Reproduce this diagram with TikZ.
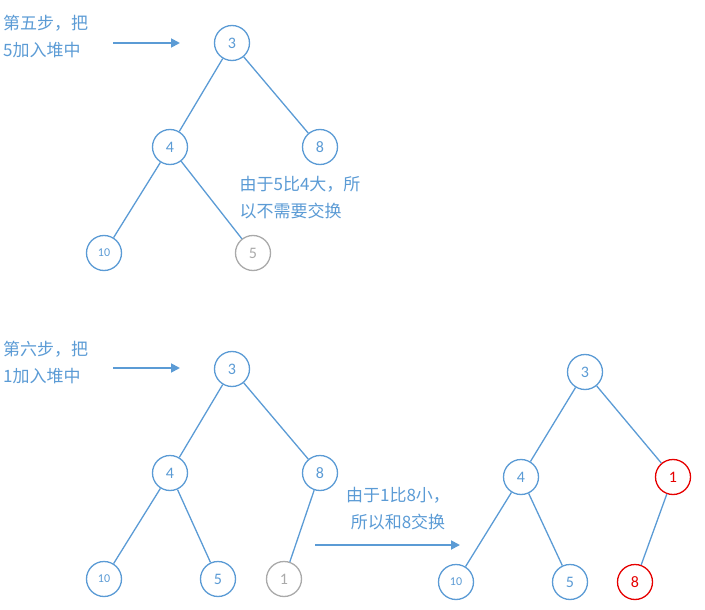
\documentclass[tikz,border=0pt]{standalone}
\usepackage{fontspec}
\setmainfont{Carlito}
\newfontfamily\cjk{Noto Sans CJK SC}
\usetikzlibrary{arrows.meta}
\definecolor{bl}{RGB}{91,155,213}
\definecolor{gr}{RGB}{170,170,170}
\definecolor{rd}{RGB}{230,0,0}
\begin{document}
\begin{tikzpicture}[x=1pt,y=-1pt,
  nd/.style={circle,draw=bl,line width=1.3pt,minimum size=35pt,inner sep=0pt,text=bl,font=\fontsize{16}{16}\selectfont,fill=white},
  sm/.style={font=\fontsize{12}{12}\selectfont},
  gy/.style={draw=gr,text=gr},
  rdn/.style={draw=rd,text=rd},
  ed/.style={draw=bl,line width=1.3pt},
  ar/.style={draw=bl,line width=1.8pt,-{Triangle[length=9pt,width=9pt]}},
  lb/.style={text=bl,font=\cjk\fontsize{17}{27}\selectfont,align=center,inner sep=0pt}]
\useasboundingbox (0,0) rectangle (705,610);
% step 5
\node[nd] (a3) at (232,43) {3};
\node[nd] (a4) at (170,147) {4};
\node[nd] (a8) at (320,147) {8};
\node[nd,sm] (a10) at (104,253) {10};
\node[nd,gy] (a5) at (253,253) {5};
\draw[ed] (a3)--(a4); \draw[ed] (a3)--(a8); \draw[ed] (a4)--(a10); \draw[ed] (a4)--(a5);
\node[lb,align=left,anchor=west] (t1) at (3,37) {第五步，把\\5加入堆中};
\coordinate (s1) at (113,43); \coordinate (e1) at (180,43);
\draw[ar] (s1)--(e1);
\node[lb,align=left,fill=white,inner sep=1pt] (t2) at (300,198) {由于5比4大，所\\以不需要交换};
% step 6
\node[nd] (b3) at (232,369) {3};
\node[nd] (b4) at (170,473) {4};
\node[nd] (b8) at (320,473) {8};
\node[nd,sm] (b10) at (104,579) {10};
\node[nd] (b5) at (218,579) {5};
\node[nd,gy] (b1) at (284,579) {1};
\draw[ed] (b3)--(b4); \draw[ed] (b3)--(b8); \draw[ed] (b4)--(b10); \draw[ed] (b4)--(b5); \draw[ed] (b8)--(b1);
\node[lb,align=left,anchor=west] (t3) at (3,363) {第六步，把\\1加入堆中};
\coordinate (s2) at (113,368); \coordinate (e2) at (180,368);
\draw[ar] (s2)--(e2);
\node[lb] (t4) at (398,509) {由于1比8小，\\所以和8交换};
\coordinate (s3) at (315,545); \coordinate (e3) at (460,545);
\draw[ar] (s3)--(e3);
% result
\node[nd] (c3) at (585,372) {3};
\node[nd] (c4) at (521,477) {4};
\node[nd,rdn] (c1) at (673,477) {1};
\node[nd,sm] (c10) at (456,582) {10};
\node[nd] (c5) at (570,582) {5};
\node[nd,rdn] (c8) at (635,582) {8};
\draw[ed] (c3)--(c4); \draw[ed] (c3)--(c1); \draw[ed] (c4)--(c10); \draw[ed] (c4)--(c5); \draw[ed] (c1)--(c8);
\end{tikzpicture}
\end{document}
